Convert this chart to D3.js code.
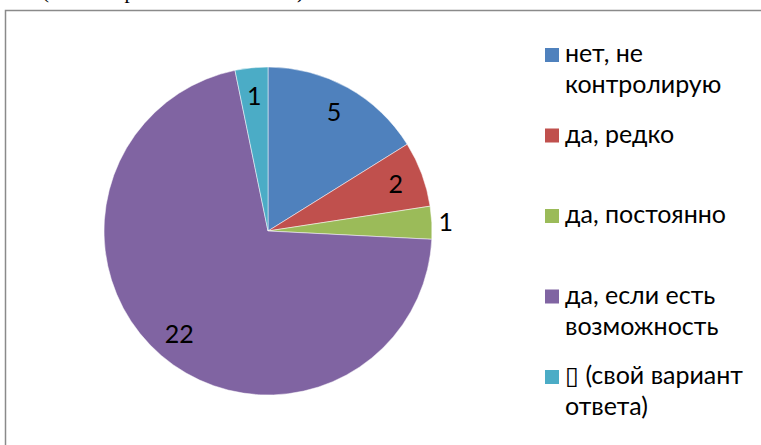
<!DOCTYPE html>
<html>
<head>
<meta charset="utf-8">
<script src="https://cdn.jsdelivr.net/npm/d3@7"></script>
<style>
  body { margin: 0; background: #fff; }
  svg { display: block; }
</style>
</head>
<body>
<div id="vis"></div>
<script>
// answers and counts
var categories = ["нет, не контролирую", "да, редко", "да, постоянно", "да, если есть возможность", "\u25AF (свой вариант ответа)"];
var legendLines = [["нет, не", "контролирую"], ["да, редко"], ["да, постоянно"], ["да, если есть", "возможность"], ["\u25AF (свой вариант", "ответа)"]];
var values = [5, 2, 1, 22, 1];
var colors = ["#4F81BD", "#C0504D", "#9BBB59", "#8064A2", "#4BACC6"];
var outsideLabels = ["да, постоянно"];

var width = 761, height = 445;
var cx = 268, cy = 231, radius = 164;

var svg = d3.select("#vis")
  .append("svg")
  .attr("width", width)
  .attr("height", height);

// page text cut off above the chart frame, as in the source
svg.append("text")
  .attr("x", 42)
  .attr("y", -2.5)
  .attr("textLength", 262)
  .style("font-family", "'Liberation Serif', serif")
  .style("font-size", "21px")
  .text("(всего опрошено 31 человек)");

// chart frame (runs off right and bottom)
svg.append("rect")
  .attr("x", 5.5)
  .attr("y", 10.5)
  .attr("width", 800)
  .attr("height", 500)
  .attr("fill", "none")
  .attr("stroke", "#8a8a8a")
  .attr("stroke-width", 1.5);

var pie = d3.pie().sort(null).value(function(d) { return d; });
var arcs = pie(values);

var arc = d3.arc().innerRadius(0).outerRadius(radius);
var inArc = d3.arc().innerRadius(radius * 0.83).outerRadius(radius * 0.83);
var outArc = d3.arc().innerRadius(radius + 14).outerRadius(radius + 14);

var g = svg.append("g").attr("transform", "translate(" + cx + "," + cy + ")");

g.selectAll("path.slice")
  .data(arcs)
  .enter()
  .append("path")
  .attr("class", "slice")
  .attr("d", arc)
  .attr("fill", function(d, i) { return colors[i]; })
  .attr("stroke", "#fff")
  .attr("stroke-width", 0.5);

g.selectAll("text.lbl")
  .data(arcs)
  .enter()
  .append("text")
  .attr("class", "lbl")
  .attr("transform", function(d, i) {
    var a = outsideLabels.indexOf(categories[i]) >= 0 ? outArc : inArc;
    return "translate(" + a.centroid(d) + ")";
  })
  .attr("text-anchor", "middle")
  .attr("dy", "0.36em")
  .style("font-family", "Lato, 'Open Sans', sans-serif")
  .style("font-size", "25px")
  .style("fill", "#000")
  .text(function(d) { return d.value; });

// legend
var legend = svg.append("g").attr("transform", "translate(545,0)");
var entryY = d3.scalePoint().domain(d3.range(categories.length)).range([62, 384]);

var item = legend.selectAll("g.item")
  .data(legendLines)
  .enter()
  .append("g")
  .attr("class", "item")
  .attr("transform", function(d, i) { return "translate(0," + entryY(i) + ")"; });

item.append("rect")
  .attr("x", 0)
  .attr("y", -14)
  .attr("width", 14)
  .attr("height", 14)
  .attr("fill", function(d, i) { return colors[i]; });

item.append("text")
  .style("font-family", "Lato, 'Open Sans', sans-serif")
  .style("font-size", "25px")
  .style("fill", "#000")
  .selectAll("tspan")
  .data(function(d) { return d; })
  .enter()
  .append("tspan")
  .attr("x", 20)
  .attr("y", function(d, j) { return j * 31; })
  .text(function(d) { return d; });
</script>
</body>
</html>
